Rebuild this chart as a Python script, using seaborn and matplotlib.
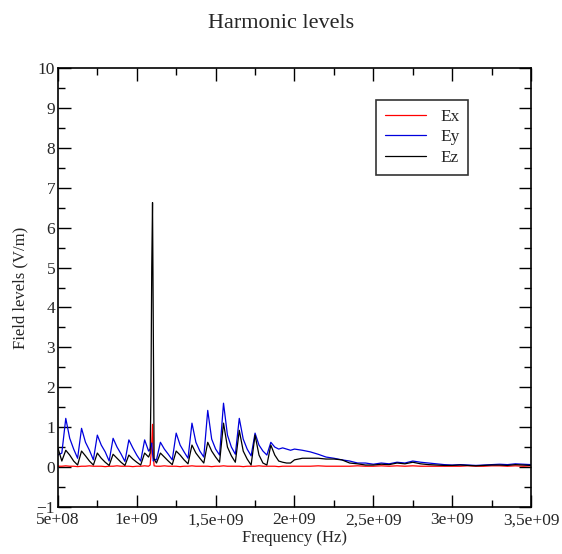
import matplotlib
matplotlib.use("Agg")
import matplotlib.pyplot as plt
import seaborn as sns
import pandas as pd
from matplotlib.ticker import MultipleLocator, FixedLocator, FixedFormatter

# frequences en GHz
freq_ghz = [
    0.500, 0.525, 0.550, 0.575, 0.600, 0.625, 0.650, 0.675, 0.700, 0.725,
    0.750, 0.775, 0.800, 0.825, 0.850, 0.875, 0.900, 0.925, 0.950, 0.975,
    1.000, 1.025, 1.050, 1.075,
    1.085, 1.090, 1.095, 1.100, 1.105, 1.110,
    1.125, 1.150, 1.175, 1.200, 1.225, 1.250, 1.275, 1.300, 1.325, 1.350,
    1.375, 1.400, 1.425, 1.450, 1.475, 1.500, 1.525, 1.550, 1.575, 1.600,
    1.625, 1.650, 1.675, 1.700, 1.725, 1.750, 1.775, 1.800, 1.825, 1.850,
    1.875, 1.900, 1.925, 1.950, 1.975, 2.000,
    2.05, 2.10, 2.15, 2.20, 2.25, 2.30, 2.35, 2.40, 2.45, 2.50,
    2.55, 2.60, 2.65, 2.70, 2.75, 2.80, 2.85, 2.90, 2.95, 3.00,
    3.05, 3.10, 3.15, 3.20, 3.25, 3.30, 3.35, 3.40, 3.45, 3.50,
]

ex = [
    0.02, 0.02, 0.03, 0.02, 0.02, 0.01, 0.02, 0.02, 0.03, 0.02,
    0.02, 0.02, 0.01, 0.02, 0.02, 0.03, 0.02, 0.02, 0.02, 0.01,
    0.02, 0.02, 0.03, 0.02,
    0.05, 0.30, 0.60, 1.07, 0.30, 0.03,
    0.02, 0.02, 0.03, 0.02, 0.02, 0.02, 0.01, 0.02, 0.02, 0.03,
    0.02, 0.02, 0.02, 0.02, 0.01, 0.02, 0.02, 0.03, 0.02, 0.02,
    0.02, 0.02, 0.01, 0.02, 0.02, 0.02, 0.03, 0.02, 0.02, 0.02,
    0.02, 0.01, 0.02, 0.02, 0.02, 0.02,
    0.02, 0.02, 0.03, 0.02, 0.02, 0.02, 0.02, 0.03, 0.02, 0.02,
    0.03, 0.02, 0.03, 0.02, 0.03, 0.02, 0.02, 0.02, 0.02, 0.02,
    0.02, 0.03, 0.02, 0.02, 0.03, 0.03, 0.02, 0.03, 0.02, 0.03,
]

ey = [
    0.30, 0.35, 1.22, 0.72, 0.45, 0.22, 0.97, 0.62, 0.42, 0.18,
    0.80, 0.55, 0.38, 0.15, 0.72, 0.50, 0.33, 0.14, 0.68, 0.48,
    0.30, 0.15, 0.68, 0.40,
    0.45, 0.55, 0.60, 0.35, 0.15, 0.20,
    0.18, 0.62, 0.45, 0.32, 0.18, 0.85, 0.55, 0.38, 0.22, 1.10,
    0.62, 0.40, 0.25, 1.42, 0.70, 0.45, 0.30, 1.60, 0.80, 0.50,
    0.32, 1.22, 0.70, 0.45, 0.28, 0.85, 0.55, 0.40, 0.30, 0.62,
    0.50, 0.45, 0.48, 0.45, 0.42, 0.45,
    0.42, 0.38, 0.32, 0.25, 0.22, 0.18, 0.15, 0.10, 0.10, 0.07,
    0.10, 0.08, 0.12, 0.10, 0.15, 0.12, 0.10, 0.08, 0.06, 0.05,
    0.06, 0.05, 0.04, 0.05, 0.06, 0.07, 0.06, 0.08, 0.07, 0.06,
]

ez = [
    0.48, 0.15, 0.42, 0.30, 0.15, 0.05, 0.40, 0.28, 0.15, 0.05,
    0.35, 0.22, 0.12, 0.04, 0.32, 0.22, 0.12, 0.04, 0.30, 0.20,
    0.12, 0.05, 0.35, 0.25,
    0.35, 1.85, 5.00, 6.63, 3.40, 0.20,
    0.10, 0.35, 0.25, 0.15, 0.06, 0.40, 0.30, 0.18, 0.08, 0.55,
    0.35, 0.22, 0.10, 0.62, 0.40, 0.25, 0.12, 1.10, 0.50, 0.28,
    0.12, 0.92, 0.40, 0.20, 0.05, 0.80, 0.30, 0.10, 0.05, 0.55,
    0.30, 0.15, 0.12, 0.10, 0.10, 0.18,
    0.22, 0.22, 0.22, 0.20, 0.20, 0.18, 0.10, 0.08, 0.05, 0.05,
    0.07, 0.06, 0.10, 0.08, 0.12, 0.08, 0.06, 0.05, 0.04, 0.04,
    0.05, 0.04, 0.03, 0.04, 0.05, 0.05, 0.04, 0.06, 0.05, 0.04,
]

x_ticks = [5e8, 1e9, 1.5e9, 2e9, 2.5e9, 3e9, 3.5e9]
x_labels = ["5e+08", "1e+09", "1,5e+09", "2e+09", "2,5e+09", "3e+09", "3,5e+09"]

freq_hz = [f * 1e9 for f in freq_ghz]
df = pd.concat([
    pd.DataFrame({"freq": freq_hz, "level": ex, "comp": "Ex"}),
    pd.DataFrame({"freq": freq_hz, "level": ey, "comp": "Ey"}),
    pd.DataFrame({"freq": freq_hz, "level": ez, "comp": "Ez"}),
])

sns.set_style("ticks")
plt.rcParams['font.family'] = ['Liberation Serif', 'DejaVu Serif']

fig = plt.figure(figsize=(5.62, 5.54), dpi=100)
ax = fig.add_axes([0.103, 0.085, 0.842, 0.792])

sns.lineplot(data=df, x="freq", y="level", hue="comp",
             palette={"Ex": "red", "Ey": "#0000dd", "Ez": "black"},
             linewidth=0.9, ax=ax, sort=False, estimator=None)

ax.set_xlim(5e8, 3.5e9)
ax.set_ylim(-1, 10)
ax.xaxis.set_major_locator(FixedLocator(x_ticks))
ax.xaxis.set_major_formatter(FixedFormatter(x_labels))
ax.xaxis.set_minor_locator(MultipleLocator(2.5e8))
ax.yaxis.set_major_locator(MultipleLocator(1))
ax.yaxis.set_minor_locator(MultipleLocator(0.5))
ax.tick_params(which="both", direction="in", top=True, right=True,
               labelsize=12.5, width=1, color="black", pad=2)
ax.tick_params(axis="x", which="major", pad=4)
ax.tick_params(which="major", length=9)
ax.tick_params(which="minor", length=5)
for s in ax.spines.values():
    s.set_linewidth(1.2)
    s.set_color("black")

ax.set_xlabel("Frequency (Hz)", fontsize=12, labelpad=1)
ax.set_ylabel("Field levels (V/m)", fontsize=12, labelpad=6)
fig.suptitle("Harmonic levels", fontsize=16, y=0.975)

leg = ax.legend(loc="upper right", bbox_to_anchor=(0.867, 0.927),
                fontsize=12.5, frameon=True, fancybox=False,
                handlelength=2.4, borderpad=0.5, labelspacing=0.25,
                borderaxespad=0, handletextpad=0.8)
leg.get_frame().set_edgecolor("black")
leg.get_frame().set_linewidth(1.2)

fig.savefig("out.png", dpi=100)
